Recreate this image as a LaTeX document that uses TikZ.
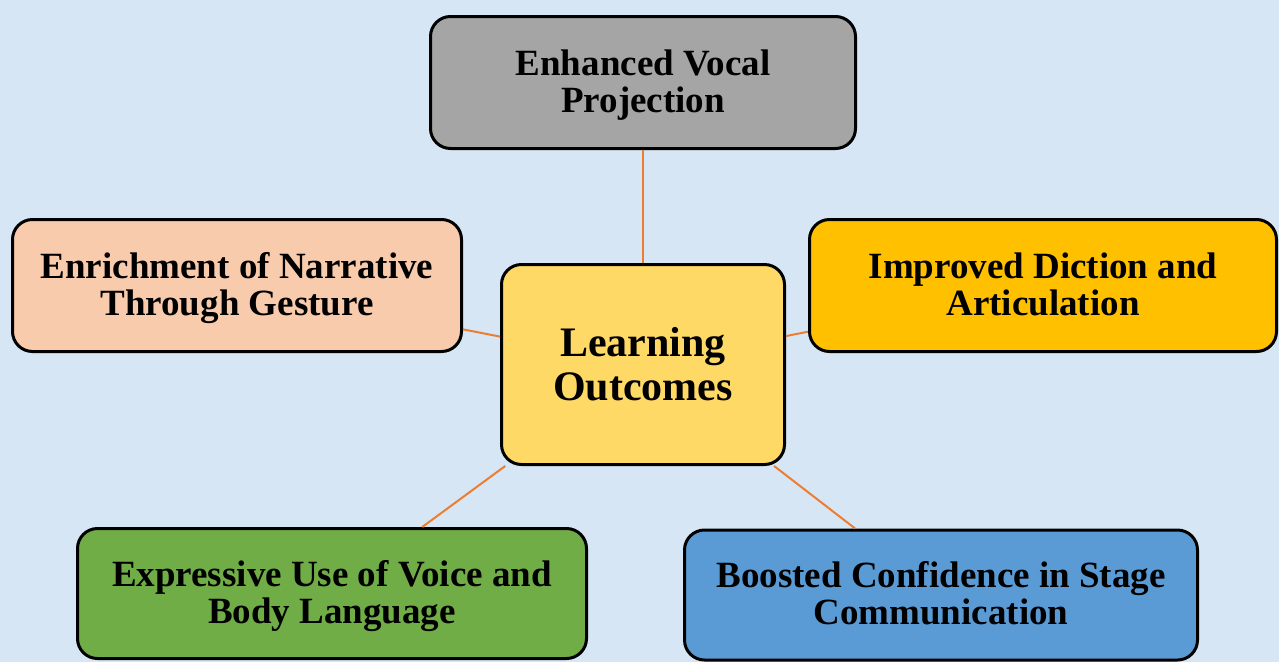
\documentclass[tikz,border=0pt]{standalone}
\usepackage{fontspec}
\setmainfont{Liberation Serif}
\definecolor{bgblue}{HTML}{D6E6F5}
\definecolor{cgray}{HTML}{A5A5A5}
\definecolor{cpeach}{HTML}{F8CBAD}
\definecolor{cgold}{HTML}{FFC000}
\definecolor{cyel}{HTML}{FFD966}
\definecolor{cgreen}{HTML}{70AD47}
\definecolor{cblue}{HTML}{5B9BD5}
\definecolor{corange}{HTML}{ED7D31}
\newcommand{\twolines}[2]{\raisebox{-4pt}[\height][\depth]{\begin{tabular}{@{}c@{}}#1\\#2\end{tabular}}}
\tikzset{
  outbox/.style={draw=black, line width=3pt, rounded corners=20pt, inner sep=0pt,
    align=center, font=\bfseries\fontsize{37}{37}\selectfont, text=black},
  link/.style={draw=corange, line width=2pt},
}
\begin{document}
\begin{tikzpicture}[x=1pt,y=-1pt]
\useasboundingbox (0,0) rectangle (1279,662);
\fill[bgblue] (0,0) rectangle (1279,662);
\node[outbox, fill=cgray, minimum width=425pt, minimum height=132pt] (top) at (643,82.5) {\twolines{Enhanced Vocal}{Projection}};
\node[outbox, fill=cpeach, minimum width=449pt, minimum height=132pt] (left) at (237,285.5) {\twolines{Enrichment of Narrative}{Through Gesture}};
\node[outbox, fill=cgold, minimum width=467pt, minimum height=132pt] (right) at (1043,285.5) {\twolines{Improved Diction and}{Articulation}};
\node[outbox, fill=cyel, minimum width=283pt, minimum height=200pt, font=\bfseries\fontsize{42}{44}\selectfont] (center) at (643,364.5) {Learning\\Outcomes};
\node[outbox, fill=cgreen, minimum width=509pt, minimum height=130pt] (bl) at (332,593.5) {\twolines{Expressive Use of Voice and}{Body Language}};
\node[outbox, fill=cblue, minimum width=513pt, minimum height=130pt] (br) at (941,595) {\twolines{Boosted Confidence in Stage}{Communication}};
\draw[link] (center) -- (top);
\draw[link] (center) -- (left);
\draw[link] (center) -- (right);
\draw[link] (center) -- (bl);
\draw[link] (center) -- (br);
\end{tikzpicture}
\end{document}
